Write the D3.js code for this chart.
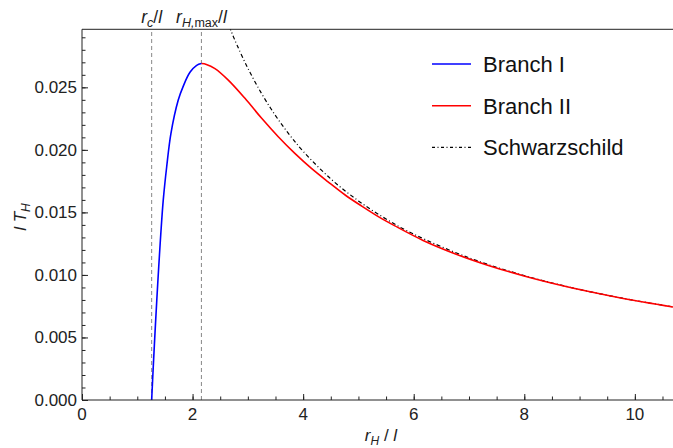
<!DOCTYPE html>
<html>
<head>
<meta charset="utf-8">
<script src="https://cdn.jsdelivr.net/npm/d3@7"></script>
<style>
  body { margin: 0; background: #fff; }
  svg { display: block; font-family: "Liberation Sans", Arial, sans-serif; }
</style>
</head>
<body>
<svg id="drawspace" width="673" height="448"></svg>
<script>
// values (r_H / l , l T_H)
let branch1R = [1.26, 1.289, 1.32, 1.353, 1.388, 1.426, 1.47, 1.532, 1.609, 1.741, 1.832, 1.953, 2.074, 2.16];
let branch1T = [0, 0.00266, 0.00533, 0.0080, 0.01066, 0.01333, 0.0160, 0.01865, 0.02132, 0.02398, 0.02510, 0.02620, 0.02676, 0.0269];

let branch2R = [2.16, 2.25, 2.405, 2.646, 2.948, 3.25, 3.55, 3.85, 4.15, 4.45, 4.76, 5.06, 5.36, 5.66, 6.17, 6.78, 7.38, 7.98, 8.58, 9.19, 9.79, 10.7];
let branch2T = [0.0269, 0.02683, 0.02650, 0.02558, 0.02412, 0.02252, 0.02105, 0.01972, 0.01852, 0.01745, 0.01639, 0.01550, 0.01466, 0.01392, 0.01276, 0.01164, 0.01072, 0.00994, 0.00926, 0.00865, 0.00812, 0.00743];

let schwR = [2.6, 2.7, 2.8, 3.0, 3.25, 3.5, 3.75, 4.0, 4.5, 5.0, 5.5, 6.0, 7.0, 8.0, 9.0, 10.0, 10.7];
let schwT = [0.03061, 0.02947, 0.02842, 0.02653, 0.02449, 0.02274, 0.02122, 0.01989, 0.01768, 0.01592, 0.01447, 0.01326, 0.01137, 0.00995, 0.00884, 0.00796, 0.00744];

let rc = 1.26;
let rHmax = 2.16;

let xTicks = [0, 2, 4, 6, 8, 10];
let yTicks = [0, 0.005, 0.01, 0.015, 0.02, 0.025];

let legendNames = ["Branch I", "Branch II", "Schwarzschild"];

let drawSpace = d3.select("#drawspace");

var x = d3.scaleLinear().domain([0, 10.69]).range([82, 673]);
var y = d3.scaleLinear().domain([0, 0.02964]).range([400, 29.3]);

function zipPts(rs, ts) {
  return rs.map((r, i) => ({ r: r, t: ts[i] }));
}

drawSpace.append("clipPath").attr("id", "plotclip")
  .append("rect")
  .attr("x", x(0)).attr("y", y.range()[1])
  .attr("width", x.range()[1] - x(0)).attr("height", y(0) - y.range()[1]);

// dashed marker lines
[rc, rHmax].forEach((v) => {
  drawSpace.append("line")
    .attr("x1", x(v)).attr("x2", x(v))
    .attr("y1", y(0)).attr("y2", y.range()[1])
    .attr("stroke", "#888").attr("stroke-width", 1)
    .attr("stroke-dasharray", "4,3");
});

let line = d3.line()
  .x((d) => x(d.r))
  .y((d) => y(d.t))
  .curve(d3.curveCatmullRom.alpha(0.5));

let plot = drawSpace.append("g").attr("clip-path", "url(#plotclip)");

plot.append("path")
  .datum(zipPts(schwR, schwT))
  .attr("fill", "none")
  .attr("stroke", "black")
  .attr("stroke-width", 1.2)
  .attr("stroke-dasharray", "4,2.5,1,2.5")
  .attr("d", line);

plot.append("path")
  .datum(zipPts(branch2R, branch2T))
  .attr("fill", "none")
  .attr("stroke", "#ff0000")
  .attr("stroke-width", 1.6)
  .attr("d", line);

plot.append("path")
  .datum(zipPts(branch1R, branch1T))
  .attr("fill", "none")
  .attr("stroke", "#0000ff")
  .attr("stroke-width", 1.6)
  .attr("d", line);

// axes (ticks pointing inward)
let xAxis = drawSpace.append("g")
  .attr("transform", "translate(0," + y(0) + ")")
  .call(d3.axisTop(x).tickValues(d3.range(0, 10.7, 0.5)).tickSize(3.5).tickFormat(""));
let xMaj = drawSpace.append("g")
  .attr("transform", "translate(0," + y(0) + ")")
  .call(d3.axisTop(x).tickValues(xTicks).tickSize(6).tickFormat(""));
xMaj.selectAll(".domain").remove();
xAxis.select(".domain").attr("d", "M" + x(0) + ",0H673");

let yAxis = drawSpace.append("g")
  .attr("transform", "translate(" + x(0) + ",0)")
  .call(d3.axisRight(y).tickValues(d3.range(0, 0.0296, 0.001)).tickSize(3.5).tickFormat(""));
let yMaj = drawSpace.append("g")
  .attr("transform", "translate(" + x(0) + ",0)")
  .call(d3.axisRight(y).tickValues(yTicks).tickSize(6).tickFormat(""));
yMaj.selectAll(".domain").remove();
yAxis.select(".domain").attr("d", "M0," + y(0) + "V" + y.range()[1]);

drawSpace.selectAll(".tick line").attr("stroke", "#222");
drawSpace.selectAll(".domain").attr("stroke", "#222");

// top frame line
drawSpace.append("line")
  .attr("x1", x(0)).attr("x2", 673)
  .attr("y1", y.range()[1]).attr("y2", y.range()[1])
  .attr("stroke", "#222");

// tick labels
drawSpace.selectAll(".xlab")
  .data(xTicks).enter()
  .append("text")
  .attr("x", (d) => x(d))
  .attr("y", 419.5)
  .attr("text-anchor", "middle")
  .attr("font-size", 17)
  .attr("fill", "#222")
  .text((d) => d);

drawSpace.selectAll(".ylab")
  .data(yTicks).enter()
  .append("text")
  .attr("x", 77)
  .attr("y", (d) => y(d) + 6)
  .attr("text-anchor", "end")
  .attr("font-size", 17)
  .attr("fill", "#222")
  .text((d) => d.toFixed(3));

// axis titles
let xt = drawSpace.append("text")
  .attr("x", 381).attr("y", 441)
  .attr("text-anchor", "middle")
  .attr("font-size", 17).attr("fill", "#222");
xt.append("tspan").attr("font-style", "italic").text("r");
xt.append("tspan").attr("font-style", "italic").attr("font-size", 12).attr("dy", 4).text("H");
xt.append("tspan").attr("dy", -4).text(" / ");
xt.append("tspan").attr("font-style", "italic").text("l");

let yt = drawSpace.append("text")
  .attr("transform", "translate(26,217) rotate(-90)")
  .attr("text-anchor", "middle")
  .attr("font-size", 17).attr("fill", "#222");
yt.append("tspan").attr("font-style", "italic").text("l");
yt.append("tspan").text(" ");
yt.append("tspan").attr("font-style", "italic").text("T");
yt.append("tspan").attr("font-style", "italic").attr("font-size", 12).attr("dy", 4).text("H");

// labels above the dashed lines
let l1 = drawSpace.append("text")
  .attr("x", x(rc)).attr("y", 23)
  .attr("text-anchor", "middle")
  .attr("font-size", 17.5).attr("fill", "#222");
l1.append("tspan").attr("font-style", "italic").text("r");
l1.append("tspan").attr("font-style", "italic").attr("font-size", 12.5).attr("dy", 4).text("c");
l1.append("tspan").attr("dy", -4).text("/");
l1.append("tspan").attr("font-style", "italic").text("l");

let l2 = drawSpace.append("text")
  .attr("x", x(rHmax)).attr("y", 23)
  .attr("text-anchor", "middle")
  .attr("font-size", 17.5).attr("fill", "#222");
l2.append("tspan").attr("font-style", "italic").text("r");
l2.append("tspan").attr("font-style", "italic").attr("font-size", 12.5).attr("dy", 4).text("H,");
l2.append("tspan").attr("font-size", 12.5).text("max");
l2.append("tspan").attr("dy", -4).text("/");
l2.append("tspan").attr("font-style", "italic").text("l");

// legend
let legColors = ["#0000ff", "#ff0000", "black"];
let legDash = [null, null, "3,2.5,1,2.5"];
let leg = drawSpace.selectAll(".leg")
  .data(legendNames).enter()
  .append("g")
  .attr("transform", (d, i) => "translate(432," + (64 + i * 41.7) + ")");
leg.append("line")
  .attr("x1", 0).attr("x2", 39)
  .attr("stroke", (d, i) => legColors[i])
  .attr("stroke-width", (d, i) => (i < 2 ? 1.6 : 1.2))
  .attr("stroke-dasharray", (d, i) => legDash[i]);
leg.append("text")
  .attr("x", 51).attr("y", 8)
  .attr("font-size", 22)
  .attr("fill", "#111")
  .text((d) => d);
</script>
</body>
</html>
